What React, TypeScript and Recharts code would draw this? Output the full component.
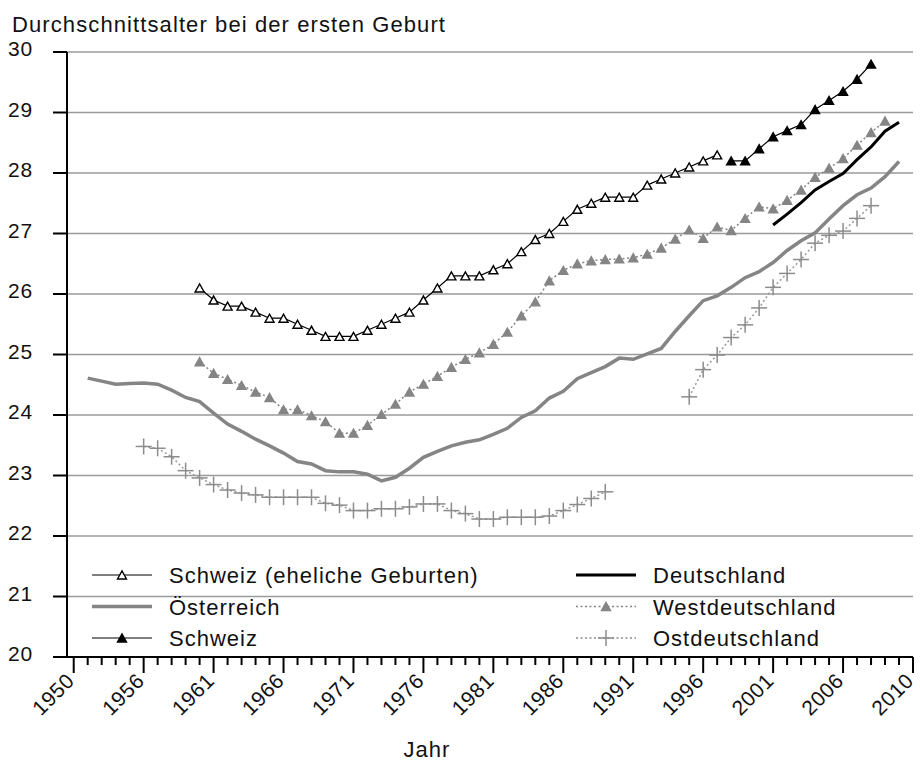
import React from 'react';
import { LineChart, Line, XAxis, YAxis, CartesianGrid, Legend } from 'recharts';

const FONT = '"Liberation Sans", Arial, Helvetica, sans-serif';

// x axis: ticks every year, labelled every fifth (labels as printed in the source)
const majorTicks = [1951, 1956, 1961, 1966, 1971, 1976, 1981, 1986, 1991, 1996, 2001, 2006, 2011];
const majorLabels = ['1950', '1956', '1961', '1966', '1971', '1976', '1981', '1986', '1991', '1996', '2001', '2006', '2010'];
const yTicks = [20, 21, 22, 23, 24, 25, 26, 27, 28, 29, 30];

// series: first year + one value per year (null = no data)
const oesterreichStart = 1952;
const oesterreich = [
  24.61, 24.56, 24.51, 24.52, 24.53, 24.51, 24.41, 24.29, 24.22, 24.03,
  23.85, 23.73, 23.6, 23.49, 23.37, 23.23, 23.19, 23.08, 23.06, 23.06,
  23.02, 22.91, 22.97, 23.12, 23.3, 23.4, 23.49, 23.55, 23.59, 23.68,
  23.78, 23.96, 24.07, 24.28, 24.39, 24.6, 24.7, 24.8, 24.94, 24.92,
  25.01, 25.1, 25.38, 25.64, 25.89, 25.97, 26.11, 26.27, 26.37, 26.52,
  26.72, 26.88, 27.01, 27.24, 27.46, 27.64, 27.75, 27.94, 28.19,
];

const schweizEhelichStart = 1960;
const schweizEhelich = [
  26.1, 25.9, 25.8, 25.8, 25.7, 25.6, 25.6, 25.5, 25.4, 25.3,
  25.3, 25.3, 25.4, 25.5, 25.6, 25.7, 25.9, 26.1, 26.3, 26.3,
  26.3, 26.4, 26.5, 26.7, 26.9, 27.0, 27.2, 27.4, 27.5, 27.6,
  27.6, 27.6, 27.8, 27.9, 28.0, 28.1, 28.2, 28.3,
];

const schweizStart = 1998;
const schweiz = [28.2, 28.2, 28.4, 28.6, 28.7, 28.8, 29.05, 29.2, 29.35, 29.55, 29.8];

const deutschlandStart = 2001;
const deutschland = [27.14, 27.32, 27.51, 27.72, 27.86, 27.99, 28.22, 28.43, 28.69, 28.84];

const westStart = 1960;
const westdeutschland = [
  24.88, 24.69, 24.59, 24.49, 24.38, 24.29, 24.09, 24.09, 23.99, 23.89,
  23.7, 23.7, 23.83, 24.01, 24.18, 24.38, 24.51, 24.64, 24.79, 24.92,
  25.03, 25.17, 25.37, 25.64, 25.87, 26.22, 26.39, 26.5, 26.55, 26.57,
  26.58, 26.6, 26.66, 26.76, 26.91, 27.06, 26.92, 27.11, 27.05, 27.25,
  27.44, 27.41, 27.55, 27.72, 27.93, 28.08, 28.24, 28.46, 28.67, 28.86,
];

const ostStart = 1956;
const ostdeutschland = [
  23.48, 23.45, 23.31, 23.08, 22.96, 22.85, 22.76, 22.71, 22.68, 22.64,
  22.64, 22.64, 22.64, 22.54, 22.51, 22.42, 22.42, 22.45, 22.45, 22.48,
  22.53, 22.53, 22.42, 22.37, 22.28, 22.28, 22.31, 22.31, 22.31, 22.33,
  22.42, 22.52, 22.62, 22.73, null, null, null, null, null, 24.3,
  24.75, 24.99, 25.28, 25.49, 25.77, 26.11, 26.34, 26.57, 26.84, 26.97,
  27.04, 27.25, 27.46,
];

const pick = (arr: (number | null)[], start: number, year: number) => {
  const v = arr[year - start];
  return v === undefined ? null : v;
};

const rows: any[] = [];
for (let y = 1952; y <= 2010; y++) {
  rows.push({
    year: y,
    se: pick(schweizEhelich, schweizEhelichStart, y),
    at: pick(oesterreich, oesterreichStart, y),
    ch: pick(schweiz, schweizStart, y),
    de: pick(deutschland, deutschlandStart, y),
    west: pick(westdeutschland, westStart, y),
    ost: pick(ostdeutschland, ostStart, y),
  });
}

const allYears: number[] = [];
for (let y = 1951; y <= 2011; y++) allYears.push(y);

const GRAY = '#858585';

const triPath = (cx: number, cy: number, w: number, h: number) =>
  `M${cx - w / 2},${cy + h / 2} L${cx + w / 2},${cy + h / 2} L${cx},${cy - h / 2} Z`;

const makeTriDot = (fill: string, stroke: string) => (props: any) => {
  const { cx, cy, index } = props;
  if (cx == null || cy == null || props.value == null || isNaN(cy)) return <g key={`n${index}`} />;
  return <path key={`t${index}`} d={triPath(cx, cy, 9, 8)} fill={fill} stroke={stroke} strokeWidth={1.4} />;
};

const PlusDot = (props: any) => {
  const { cx, cy, index } = props;
  if (cx == null || cy == null || props.value == null || isNaN(cy)) return <g key={`n${index}`} />;
  return (
    <g key={`p${index}`} stroke="#8c8c8c" strokeWidth={1.5}>
      <line x1={cx - 8} y1={cy} x2={cx + 8} y2={cy} />
      <line x1={cx} y1={cy - 8} x2={cx} y2={cy + 8} />
    </g>
  );
};

const XTick = (props: any) => {
  const { x, y, payload } = props;
  const i = majorTicks.indexOf(payload.value);
  const major = i >= 0;
  const lx = x + 2;
  const ly = y + 25;
  return (
    <g>
      <line x1={x} y1={y} x2={x} y2={y + (major ? 16 : 8)} stroke="#000" strokeWidth={2} />
      {major && (
        <text
          x={lx}
          y={ly}
          textAnchor="end"
          transform={`rotate(-45, ${lx}, ${ly})`}
          fontFamily={FONT}
          fontSize={21}
          letterSpacing={0.6}
          fill="#111"
        >
          {majorLabels[i]}
        </text>
      )}
    </g>
  );
};

const YTick = (props: any) => {
  const { x, y, payload } = props;
  return (
    <text x={x} y={y + 4} textAnchor="end" fontFamily={FONT} fontSize={21} letterSpacing={0.8} fill="#111">
      {payload.value}
    </text>
  );
};

const legendItems = [
  { label: 'Schweiz (eheliche Geburten)', col: 0, row: 0, kind: 'se' },
  { label: 'Österreich', col: 0, row: 1, kind: 'at' },
  { label: 'Schweiz', col: 0, row: 2, kind: 'ch' },
  { label: 'Deutschland', col: 1, row: 0, kind: 'de' },
  { label: 'Westdeutschland', col: 1, row: 1, kind: 'west' },
  { label: 'Ostdeutschland', col: 1, row: 2, kind: 'ost' },
];

const LegendContent = () => (
  <svg width={920} height={100}>
    {legendItems.map((it) => {
      const x0 = it.col === 0 ? 92 : 576;
      const cy = 15 + it.row * 31.5;
      const mid = x0 + 30;
      let sample: React.ReactNode = null;
      if (it.kind === 'se' || it.kind === 'ch') {
        sample = (
          <g>
            <line x1={x0} y1={cy} x2={x0 + 60} y2={cy} stroke="#000" strokeWidth={1.2} />
            <path d={triPath(mid, cy, 9, 8)} fill={it.kind === 'se' ? '#fff' : '#000'} stroke="#000" strokeWidth={1.4} />
          </g>
        );
      } else if (it.kind === 'at') {
        sample = <line x1={x0} y1={cy} x2={x0 + 60} y2={cy} stroke={GRAY} strokeWidth={3.5} />;
      } else if (it.kind === 'de') {
        sample = <line x1={x0} y1={cy} x2={x0 + 60} y2={cy} stroke="#000" strokeWidth={3} />;
      } else if (it.kind === 'west') {
        sample = (
          <g>
            <line x1={x0} y1={cy} x2={x0 + 60} y2={cy} stroke={GRAY} strokeWidth={1.5} strokeDasharray="2 2.5" />
            <path d={triPath(mid, cy, 9, 8)} fill={GRAY} stroke={GRAY} strokeWidth={1.4} />
          </g>
        );
      } else {
        sample = (
          <g stroke="#8c8c8c" strokeWidth={1.5}>
            <line x1={x0} y1={cy} x2={x0 + 60} y2={cy} strokeDasharray="2 2.5" />
            <line x1={mid - 8} y1={cy} x2={mid + 8} y2={cy} />
            <line x1={mid} y1={cy - 8} x2={mid} y2={cy + 8} />
          </g>
        );
      }
      return (
        <g key={it.label}>
          {sample}
          <text x={x0 + 77} y={cy + 8} fontFamily={FONT} fontSize={22} letterSpacing={1} fill="#111">
            {it.label}
          </text>
        </g>
      );
    })}
  </svg>
);

export default function App() {
  return (
    <div style={{ position: 'absolute', left: 0, top: 0, background: '#fff' }}>
      <LineChart width={920} height={765} data={rows} margin={{ top: 52, right: 7, left: 0, bottom: 0 }}>
        <CartesianGrid horizontal vertical={false} stroke="#9a9a9a" strokeWidth={1.6} />
        <XAxis
          dataKey="year"
          type="number"
          domain={[1950.52, 2011]}
          ticks={allYears}
          interval={0}
          allowDataOverflow
          tick={<XTick />}
          tickLine={false}
          tickSize={0}
          tickMargin={0}
          height={108}
          axisLine={{ stroke: '#000', strokeWidth: 2 }}
          label={() => (
            <text x={427} y={757} textAnchor="middle" fontFamily={FONT} fontSize={22} letterSpacing={1} fill="#111">
              Jahr
            </text>
          )}
        />
        <YAxis
          type="number"
          domain={[20, 30]}
          ticks={yTicks}
          interval={0}
          width={67}
          tickSize={14}
          tickMargin={20}
          tickLine={{ stroke: '#000', strokeWidth: 2 }}
          axisLine={{ stroke: '#000', strokeWidth: 2 }}
          tick={<YTick />}
          label={() => (
            <text x={12} y={32} fontFamily={FONT} fontSize={22} letterSpacing={1.1} fill="#111">
              Durchschnittsalter bei der ersten Geburt
            </text>
          )}
        />
        <Legend
          layout="vertical"
          verticalAlign="middle"
          align="center"
          content={() => <LegendContent />}
          wrapperStyle={{ left: 0, top: 560, width: 920, height: 100 }}
        />
        <Line dataKey="at" stroke={GRAY} strokeWidth={3.5} dot={false} isAnimationActive={false} />
        <Line dataKey="west" stroke={GRAY} strokeWidth={1.5} strokeDasharray="2 2.5" dot={makeTriDot(GRAY, GRAY)} isAnimationActive={false} />
        <Line dataKey="ost" stroke="#999" strokeWidth={1.5} strokeDasharray="2 2.5" dot={PlusDot} isAnimationActive={false} />
        <Line dataKey="de" stroke="#000" strokeWidth={3} dot={false} isAnimationActive={false} />
        <Line dataKey="se" stroke="#000" strokeWidth={1.2} dot={makeTriDot('#fff', '#000')} isAnimationActive={false} />
        <Line dataKey="ch" stroke="#000" strokeWidth={1.2} dot={makeTriDot('#000', '#000')} isAnimationActive={false} />
      </LineChart>
    </div>
  );
}
